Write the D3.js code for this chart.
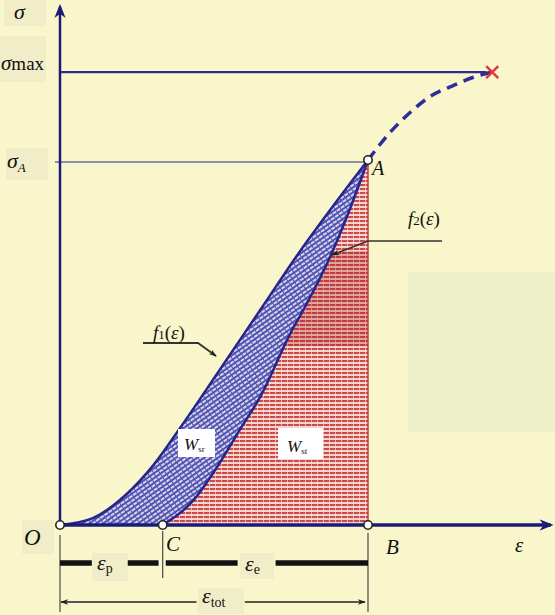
<!DOCTYPE html>
<html>
<head>
<meta charset="utf-8">
<script src="https://cdn.jsdelivr.net/npm/d3@7"></script>
<style>
  body { margin: 0; background: #f9f6cc; }
  svg { display: block; }
  text { font-family: "Liberation Serif", "DejaVu Serif", serif; fill: #111; }
</style>
</head>
<body>
<div id="chart"></div>
<script>
// strain / stress values
var f1Eps   = [0, 0.32, 0.65, 0.91, 1.17, 1.56, 1.95, 2.34, 2.66, 3.0];
var f1Sigma = [0, 1.9, 8.5, 16.4, 26.6, 42.7, 58.9, 75.1, 87.4, 100];
var f2Eps   = [1.0, 1.30, 1.53, 1.75, 1.95, 2.26, 2.37, 2.63, 2.82, 3.0];
var f2Sigma = [0, 6.8, 15.9, 26.0, 35.1, 53.4, 58.9, 73.4, 86.3, 100];
var extEps   = [3.0, 3.21, 3.41, 3.60, 3.83, 4.02, 4.21];
var extSigma = [100, 107.4, 113.0, 117.3, 120.4, 122.6, 124.1];
var sigmaA = 100, sigmaMax = 124.1;
var epsC = 1.0, epsB = 3.0, epsMaxAxis = 4.78, sigmaAxisTop = 142;
var epsRupture = 4.21;

var width = 555, height = 615;

var svg = d3.select('#chart').append('svg')
  .attr('width', width)
  .attr('height', height);

var x = d3.scaleLinear().domain([0, 3]).range([60, 368]);
var y = d3.scaleLinear().domain([0, 100]).range([525, 160]);

var f1 = f1Eps.map((e, i) => [e, f1Sigma[i]]);
var f2 = f2Eps.map((e, i) => [e, f2Sigma[i]]);
var ext = extEps.map((e, i) => [e, extSigma[i]]);

var defs = svg.append('defs');

// blue cross-hatch
var pb = defs.append('pattern').attr('id', 'blueHatch')
  .attr('patternUnits', 'userSpaceOnUse')
  .attr('width', 5).attr('height', 4)
  .attr('patternTransform', 'rotate(-35)');
pb.append('rect').attr('width', 5).attr('height', 4).attr('fill', '#5252b0');
pb.append('line').attr('x1', 0).attr('x2', 4).attr('y1', 2).attr('y2', 2)
  .attr('stroke', '#ececf8').attr('stroke-width', 1.7);

// red horizontal hatch
var pr = defs.append('pattern').attr('id', 'redHatch')
  .attr('patternUnits', 'userSpaceOnUse')
  .attr('width', 6).attr('height', 4);
pr.append('rect').attr('width', 6).attr('height', 4).attr('fill', '#f3d4cf');
pr.append('rect').attr('width', 6).attr('height', 2).attr('fill', '#cc4a48');
pr.append('rect').attr('x', 5).attr('width', 0.8).attr('height', 4).attr('fill', '#f6e2dc').attr('opacity', 0.8);

var marker = defs.append('marker').attr('id', 'arr')
  .attr('viewBox', '0 0 10 10').attr('refX', 9).attr('refY', 5)
  .attr('markerWidth', 8).attr('markerHeight', 8).attr('orient', 'auto-start-reverse')
  .attr('markerUnits', 'userSpaceOnUse');
marker.append('path').attr('d', 'M0,1.5 L10,5 L0,8.5 L3,5 Z').attr('fill', '#222');

var axArr = defs.append('marker').attr('id', 'axArr')
  .attr('viewBox', '0 0 10 10').attr('refX', 8).attr('refY', 5)
  .attr('markerWidth', 14).attr('markerHeight', 14).attr('orient', 'auto')
  .attr('markerUnits', 'userSpaceOnUse');
axArr.append('path').attr('d', 'M0,1 L10,5 L0,9 L3,5 Z').attr('fill', '#1c1c78');

// background patches
svg.append('rect').attr('x', 408).attr('y', 272).attr('width', 147).attr('height', 160).attr('fill', '#eef0c9');
var boxes = [[4, 0, 42, 26], [0, 36, 46, 46], [6, 148, 42, 32], [22, 520, 32, 34],
             [92, 553, 36, 28], [240, 553, 34, 26], [198, 588, 46, 26]];
svg.selectAll('.lbox').data(boxes).enter().append('rect')
  .attr('x', d => d[0]).attr('y', d => d[1]).attr('width', d => d[2]).attr('height', d => d[3])
  .attr('fill', '#f1edc9');

// region under f2 (red)
var redArea = d3.area().x(d => x(d[0])).y0(y(0)).y1(d => y(d[1])).curve(d3.curveMonotoneX);
svg.append('path').datum(f2).attr('d', redArea).attr('fill', 'url(#redHatch)');
defs.append('clipPath').attr('id', 'redClip').append('path').datum(f2).attr('d', redArea);
svg.append('rect').attr('clip-path', 'url(#redClip)')
  .attr('x', x(1.9)).attr('y', y(75)).attr('width', x(epsB) - x(1.9)).attr('height', y(49) - y(75))
  .attr('fill', '#a01010').attr('opacity', 0.25);
svg.append('line').attr('x1', x(epsB)).attr('x2', x(epsB)).attr('y1', y(0)).attr('y2', y(sigmaA))
  .attr('stroke', '#c83a3a').attr('stroke-width', 1.5);

// band between f1 and f2 (blue)
var line = d3.line().x(d => x(d[0])).y(d => y(d[1])).curve(d3.curveMonotoneX);
var bandPath = line(f1) + 'L' + line(f2.slice().reverse()).slice(1) + 'Z';
svg.append('path').attr('d', bandPath).attr('fill', 'url(#blueHatch)');

// reference lines
svg.append('line').attr('x1', x(0)).attr('x2', x(epsRupture) - 6).attr('y1', y(sigmaMax)).attr('y2', y(sigmaMax))
  .attr('stroke', '#2e2e8c').attr('stroke-width', 2.2);
svg.append('line').attr('x1', x(0) - 5).attr('x2', x(epsB) - 4).attr('y1', y(sigmaA) + 2).attr('y2', y(sigmaA) + 2)
  .attr('stroke', '#6b6b9c').attr('stroke-width', 1.5);

// curves
svg.append('path').datum(f1).attr('d', line).attr('fill', 'none').attr('stroke', '#25258c').attr('stroke-width', 2.5);
svg.append('path').datum(f2).attr('d', line).attr('fill', 'none').attr('stroke', '#25258c').attr('stroke-width', 2.5);
svg.append('path').datum(ext).attr('d', d3.line().x(d => x(d[0])).y(d => y(d[1])).curve(d3.curveMonotoneX))
  .attr('fill', 'none').attr('stroke', '#2e2e96').attr('stroke-width', 3.5).attr('stroke-dasharray', '11,7');

// axes
svg.append('line').attr('x1', x(0)).attr('x2', x(0)).attr('y1', y(0)).attr('y2', y(sigmaAxisTop))
  .attr('stroke', '#1c1c78').attr('stroke-width', 2.5).attr('marker-end', 'url(#axArr)');
svg.append('line').attr('x1', x(0)).attr('x2', x(epsMaxAxis)).attr('y1', y(0)).attr('y2', y(0))
  .attr('stroke', '#1c1c78').attr('stroke-width', 3.5).attr('marker-end', 'url(#axArr)');

// rupture cross
var rx = x(epsRupture), ry = y(sigmaMax);
svg.append('path').attr('d', `M${rx-6},${ry-6}L${rx+6},${ry+6}M${rx-6},${ry+6}L${rx+6},${ry-6}`)
  .attr('stroke', '#e03a3a').attr('stroke-width', 2.5);

// points
var pts = [[0, 0], [epsC, 0], [epsB, 0], [epsB, sigmaA]];
svg.selectAll('.pt').data(pts).enter().append('circle')
  .attr('cx', d => x(d[0])).attr('cy', d => y(d[1])).attr('r', 4.2)
  .attr('fill', '#fff').attr('stroke', '#222').attr('stroke-width', 1.6);

// dimension lines
var dim = svg.append('g').attr('stroke', '#555').attr('stroke-width', 1.3);
dim.append('line').attr('x1', x(0)).attr('x2', x(0)).attr('y1', y(0) + 10).attr('y2', 612);
dim.append('line').attr('x1', x(epsC)).attr('x2', x(epsC)).attr('y1', y(0) + 6).attr('y2', 578);
dim.append('line').attr('x1', x(epsB)).attr('x2', x(epsB)).attr('y1', y(0) + 8).attr('y2', 612);

var thick = [[0, 0.31], [0.66, 0.96], [1.03, 1.73], [2.1, 3.0]];
svg.selectAll('.thick').data(thick).enter().append('line')
  .attr('x1', d => x(d[0])).attr('x2', d => x(d[1])).attr('y1', 563).attr('y2', 563)
  .attr('stroke', '#111').attr('stroke-width', 5.5);

svg.append('line').attr('x1', x(1.33)).attr('x2', x(0) + 1).attr('y1', 602).attr('y2', 602)
  .attr('stroke', '#222').attr('stroke-width', 1.3).attr('marker-end', 'url(#arr)');
svg.append('line').attr('x1', x(1.8)).attr('x2', x(epsB) - 3).attr('y1', 602).attr('y2', 602)
  .attr('stroke', '#222').attr('stroke-width', 1.3).attr('marker-end', 'url(#arr)');

// leader arrows
svg.append('path').attr('d', 'M442,241 L368,241 L332,255').attr('fill', 'none')
  .attr('stroke', '#333').attr('stroke-width', 1.5).attr('marker-end', 'url(#arr)');
svg.append('path').attr('d', 'M143,343 L198,343 L216,356').attr('fill', 'none')
  .attr('stroke', '#333').attr('stroke-width', 1.8).attr('marker-end', 'url(#arr)');

// W boxes
svg.append('rect').attr('x', 178).attr('y', 429).attr('width', 37).attr('height', 28).attr('fill', '#fff');
svg.append('rect').attr('x', 278).attr('y', 428).attr('width', 45).attr('height', 31).attr('fill', '#fff');

// labels
function label(tx, ty, parts, size) {
  var t = svg.append('text').attr('x', tx).attr('y', ty).attr('font-size', size);
  parts.forEach(p => {
    var s = t.append('tspan').text(p[0]);
    if (p[1]) s.attr('font-style', 'italic');
    if (p[2]) s.attr('font-size', p[2]);
    if (p[3] !== undefined) s.attr('dy', p[3]);
  });
  return t;
}
label(14, 19, [['σ', 1]], 22);
label(1, 70, [['σ', 1], ['max', 0, 19]], 21);
label(7, 168, [['σ', 1], ['A', 1, 13, 4]], 22);
label(372, 175, [['A', 1]], 20);
label(408, 225, [['f', 1], ['2', 0, 13, 0], ['(', 0], ['ε', 1], [')', 0]], 19);
label(153, 339, [['f', 1], ['1', 0, 13, 0], ['(', 0], ['ε', 1], [')', 0]], 19);
label(184, 450, [['W', 1], ['sr', 0, 9, 2]], 17);
label(287, 452, [['W', 1], ['st', 0, 9, 2]], 17);
label(24, 545, [['O', 1]], 23);
label(166, 551, [['C', 1]], 21);
label(386, 554, [['B', 1]], 21);
label(515, 552, [['ε', 1]], 21);
label(97, 570, [['ε', 1], ['p', 0, 14, 3]], 22);
label(245, 571, [['ε', 1], ['e', 0, 14, 3]], 22);
label(202, 603, [['ε', 1], ['tot', 0, 14, 4]], 22);
</script>
</body>
</html>
